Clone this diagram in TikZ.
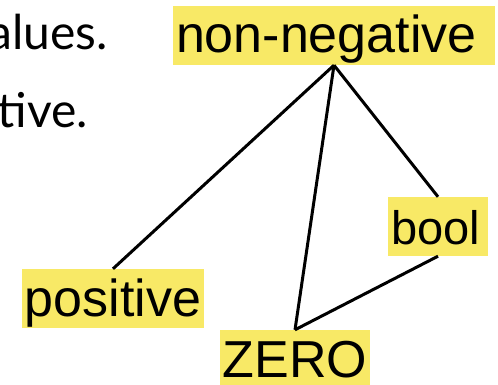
\documentclass[tikz,border=0pt]{standalone}
\usepackage{fontspec}
\setmainfont{Liberation Sans}
\newfontfamily\notefont{Lato}
\usepackage{xcolor}

\begin{document}
\begin{tikzpicture}[x=1pt, y=-1pt,
  tipo/.style={fill=colHl, inner xsep=3pt, inner ysep=0pt,
    text height=47pt, text depth=12pt, font=\fontsize{52}{52}\selectfont},
  nota/.style={anchor=base east, inner sep=0pt, font=\notefont\fontsize{48}{48}\selectfont},
  arco/.style={draw=black, line width=3pt}]

% Colori
\definecolor{colHl}{HTML}{F8E966}

\useasboundingbox (0,0) rectangle (498,385);

% Testo a sinistra (tagliato)
\node[nota] (riga1) at (108,50) {alues.};
\node[nota] (riga2) at (88,128) {tive.};

% Nodi
\node[tipo, text width=316pt, align=left] (nonneg) at (334,35.5) {non-negative};
\node[tipo] (pos) at (113,298.5) {positive};
\node[tipo] (zero) at (295,359.5) {ZERO};
\node[tipo, text width=94pt, align=left, font=\fontsize{47}{47}\selectfont] (bool) at (438,226.5) {bool};

% Collegamenti
\draw[arco] (nonneg.south) -- (pos.north);
\draw[arco] (nonneg.south) -- (zero.north);
\draw[arco] (nonneg.south) -- (bool.north);
\draw[arco] (bool.south) -- (zero.north);

\end{tikzpicture}
\end{document}
